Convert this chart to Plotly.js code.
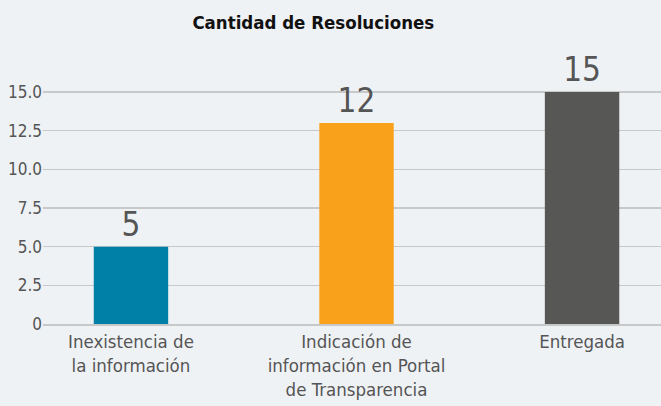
<!DOCTYPE html>
<html>
<head>
<meta charset="utf-8">
<script src="https://cdn.plot.ly/plotly-3.0.1.min.js"></script>
<style>html,body{margin:0;padding:0;background:#eff2f5;}#chart{width:661px;height:406px;}</style>
</head>
<body>
<div id="chart"></div>
<script>
const categories = ["Inexistencia de<br>la información", "Indicación de<br>información en Portal<br>de Transparencia", "Entregada"];
const values = [5, 13, 15];
const labels = ["5", "12", "15"];
const colors = ["#0080a6", "#f9a11b", "#575756"];
const yTickVals = [0, 2.5, 5, 7.5, 10, 12.5, 15];
const yTickText = ["0", "2.5", "5.0", "7.5", "10.0", "12.5", "15.0"];

const font = "DejaVu Sans Condensed, sans-serif";

Plotly.newPlot("chart", [{
  type: "bar",
  x: [0, 1, 2],
  y: values,
  text: labels,
  textposition: "outside",
  textfont: {size: 33, color: "#555555", family: font},
  cliponaxis: false,
  marker: {color: colors},
  width: 0.33,
  hoverinfo: "none"
}], {
  width: 661, height: 406,
  paper_bgcolor: "#eff2f5",
  plot_bgcolor: "#eff2f5",
  margin: {l: 43, r: 0, t: 61, b: 82},
  title: {text: "<b>Cantidad de Resoluciones</b>", x: 0.474, xanchor: "center", y: 0.945, yanchor: "middle",
    font: {size: 18.5, color: "#111111", family: font}},
  showlegend: false,
  xaxis: {
    range: [-0.39, 2.35],
    tickvals: [0, 1, 2],
    ticktext: categories,
    tickfont: {size: 18.5, color: "#555555", family: font},
    showgrid: false,
    zeroline: false,
    showline: true, linecolor: "#c8c8c8", linewidth: 2,
    ticks: "", fixedrange: true
  },
  yaxis: {
    range: [0, 17],
    tickvals: yTickVals,
    ticktext: yTickText,
    tickfont: {size: 17, color: "#555555", family: font},
    showgrid: true, gridcolor: "#c8c8c8", gridwidth: 1.5,
    zeroline: false,
    ticks: "", fixedrange: true
  }
}, {displayModeBar: false, staticPlot: true});
</script>
</body>
</html>
